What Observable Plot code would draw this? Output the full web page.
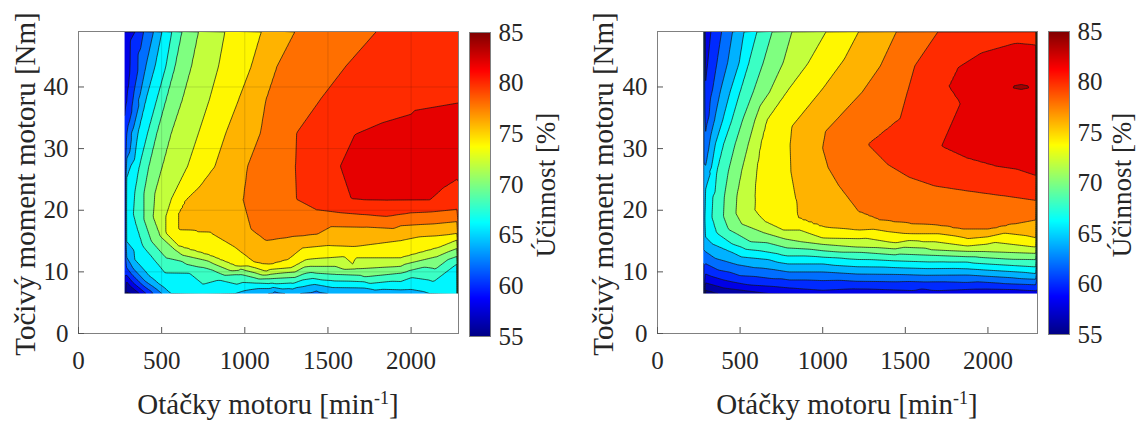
<!DOCTYPE html>
<html><head><meta charset="utf-8">
<script src="https://cdn.jsdelivr.net/npm/d3@7"></script>
<script src="https://cdn.jsdelivr.net/npm/@observablehq/plot@0.6"></script>
<style>
body{margin:0;background:#fff;}
#root{position:relative;width:1136px;height:421px;overflow:hidden;font-family:"Liberation Serif","Times New Roman",serif;color:#262626;background:#fff;}
.p{position:absolute;top:0;}
.lab{position:absolute;white-space:nowrap;font-size:29px;line-height:1;transform:translate(-50%,-50%);}
.rot{transform:translate(-50%,-50%) rotate(-90deg);}
.sup{font-size:0.62em;vertical-align:0.6em;}
</style></head>
<body><div id="root"></div>
<script>
// ---------- axes / scale values ----------
const xTicks = [0, 500, 1000, 1500, 2000];
const yTicks = [0, 10, 20, 30, 40];
const cbTicks = [55, 60, 65, 70, 75, 80, 85];
const levels = [54, 56, 58, 60, 62, 64, 66, 68, 70, 72, 74, 76, 78, 80, 82, 84];
const effRange = [55, 85];
const torqueMax = 49;
const leftRpmMax = 2285;
const rightRpmMax = 2300;

// ---------- left map: contour lines [rpm, torque] per efficiency level ----------
const leftC60 = [[342,49],[310,42],[280,35.2]];
const leftC62 = [[392,49],[336,39.5],[280,30.5]];
const leftC64 = [[452,49],[405,43.3],[361,37.9],[318,32.5],[280,27.5]];
const leftC66 = [[502,49],[460,43.3],[405,37.9],[357,32.5],[313,27.1],[280,24.5]];
const leftC68 = [[562,49],[526,43.3],[471,37.9],[416,32.5],[366,27.1],[339,22.8],[344,18.0],[388,14.2],[471,11.5],[668,9.8],[843,8.7],[1062,8.2],[1347,8.7],[1719,8.4],[2004,9.1],[2285,11.5]];
const leftC70 = [[622,49],[580,43.3],[526,37.9],[471,32.5],[423,27.1],[394,22.8],[394,18.5],[438,15.0],[526,12.3],[756,10.7],[975,9.6],[1150,8.9],[1347,9.6],[1544,9.6],[1719,9.2],[1938,9.8],[2285,12.6]];
const leftC72 = [[722,49],[679,43.3],[624,37.9],[558,32.5],[504,27.1],[460,22.8],[449,19.0],[493,15.8],[580,13.6],[777,11.8],[975,10.5],[1150,9.6],[1303,10.0],[1391,10.9],[1544,10.9],[1675,10.5],[1938,10.9],[2157,12.5],[2285,13.9]];
const leftC74 = [[882,49],[843,43.3],[788,37.9],[723,32.5],[657,27.1],[558,21.7],[526,19.0],[526,16.3],[602,14.2],[799,12.6],[953,10.9],[1128,10.1],[1281,10.7],[1369,12.0],[1500,12.3],[1653,11.2],[1938,12.3],[2157,13.9],[2285,15.3]];
const leftC76 = [[1102,49],[1040,43.3],[964,37.9],[887,32.5],[821,27.1],[723,23.6],[646,21.7],[602,19.6],[602,16.9],[799,16.3],[931,14.2],[1062,11.5],[1150,11.2],[1259,12.0],[1347,13.9],[1500,14.3],[1653,14.1],[1938,15.1],[2285,16.3]];
const leftC78 = [[1303,49],[1194,43.3],[1128,37.9],[1095,32.5],[1018,27.1],[992,21.7],[1040,16.9],[1128,15.1],[1281,15.7],[1434,16.1],[1522,17.4],[1719,17.3],[1938,17.5],[2285,18.2]];
const leftC80 = [[1796,49],[1610,43.3],[1456,37.9],[1314,32.5],[1307,27.2],[1314,21.8],[1434,20.1],[1719,19.3],[1851,19.0],[2004,19.6],[2285,20.2]];
const leftC82 = [[2285,36.8],[2004,35.5],[1829,34.1],[1664,32.2],[1577,27.1],[1643,21.8],[1851,21.6],[2113,21.7],[2190,23.6],[2285,25.2]];
const leftC66b = [[280,15.3],[339,12.0],[427,9.3],[515,7.4],[560,6.4]];
const leftC64b = [[280,12.8],[330,10.5],[400,8.5],[470,7.2],[505,6.4]];
const leftC62b = [[280,11.0],[320,9.6],[380,8.0],[450,6.4]];
const leftC60b = [[280,9.8],[330,8.2],[410,6.4]];
const leftC58b = [[280,8.7],[320,7.5],[370,6.4]];
const leftC56b = [[280,7.6],[330,6.4]];
const leftC66c = [[931,6.4],[1000,7.0],[1150,7.3],[1347,7.6],[1500,7.6],[1719,7.4],[1938,7.1],[2080,6.8],[2124,6.4]];
const leftC64c = [[1100,6.4],[1180,6.8],[1260,6.4]];
const leftC64d = [[1300,6.4],[1430,7.0],[1520,6.4]];
// extra readings [rpm, torque, efficiency]
const leftExtra = [[280,49,58.6],[2285,49,81.6],[280,6.4,55.4],[2285,6.4,66.8],[280,20,66.4],[745,6.4,66.8],
  [1000,6.4,65.3],[1180,6.4,63.6],[1280,6.4,64.3],[1430,6.4,63.4],[1800,6.4,64.8],[2000,6.4,65.2],
  [1950,28,83.4],[2150,30,83.3],[2285,30,83.2],[1750,27,82.9]];
const leftLines = [[60,leftC60],[62,leftC62],[64,leftC64],[66,leftC66],[68,leftC68],[70,leftC70],[72,leftC72],[74,leftC74],[76,leftC76],[78,leftC78],[80,leftC80],[82,leftC82],
  [66,leftC66b],[64,leftC64b],[62,leftC62b],[60,leftC60b],[58,leftC58b],[56,leftC56b],[66,leftC66c],[64,leftC64c],[64,leftC64d]];

// ---------- right map ----------
const rightC60 = [[324,49],[305,44],[288,40],[280,36]];
const rightC62 = [[389,49],[360,43.9],[320,38],[295,33.5],[280,30]];
const rightC64 = [[455,49],[425,43.9],[380,39.2],[345,34.6],[310,30],[290,27],[280,25.5]];
const rightC66 = [[525,49],[495,43.9],[440,39.2],[395,34.6],[350,30.7],[315,26.4],[292,23.5],[280,21.5]];
const rightC68 = [[603,49],[553,43.9],[500,39.2],[450,34.6],[400,30.7],[360,26.4],[335,22.2],[330,19.0],[360,16.3],[455,14.5],[673,13.2],[1001,12.4],[1438,11.8],[1876,11.6],[2300,10.8]];
const rightC70 = [[695,49],[640,43.9],[580,39.2],[515,34.6],[470,30.7],[430,26.4],[405,22.2],[400,19.0],[430,16.9],[564,14.9],[783,13.9],[1220,13.2],[1657,12.7],[2300,12.0]];
const rightC72 = [[815,49],[761,43.9],[680,39.2],[590,34.6],[550,30.7],[510,26.4],[480,22.2],[475,19.5],[510,17.8],[651,16.3],[870,14.9],[1220,14.0],[1657,13.6],[1985,13.3],[2300,13.0]];
const rightC74 = [[1023,49],[914,43.9],[783,39.2],[662,34.6],[625,30.7],[600,26.4],[590,22.2],[585,20.1],[651,18.2],[761,16.8],[1001,15.5],[1438,14.7],[1876,14.2],[2300,14.0]];
const rightC76 = [[1220,49],[1132,44.5],[1001,39.7],[870,35.4],[815,33.6],[804,30.7],[809,26.4],[837,22.2],[853,18.7],[1001,17.3],[1220,16.8],[1548,16.2],[1876,15.4],[2300,15.5]];
const rightC78 = [[1449,49],[1351,43.4],[1242,39.2],[1110,35.4],[1019,32.8],[1001,30.1],[1034,27.0],[1100,24.0],[1220,19.8],[1351,18.4],[1548,17.8],[1723,17.5],[1843,16.9],[2007,16.9],[2160,17.8],[2300,18.5]];
const rightC80 = [[1701,49],[1559,43.4],[1515,39.2],[1471,34.9],[1277,30.7],[1395,27.5],[1526,25.4],[1679,24.0],[1876,23.2],[2094,22.4],[2300,21.6]];
const rightC82 = [[2300,46.6],[2160,47.0],[1963,45.5],[1821,43.1],[1766,40.1],[1836,37.3],[1723,30.4],[1876,28.5],[2050,27.2],[2300,25.6]];
const rightC84 = [[2130,40],[2270,40]];
const rightC66b = [[280,16.0],[330,14.6],[450,13.2],[673,12.0],[1001,11.3],[1438,10.7],[1876,10.5],[2300,9.7]];
const rightC64b = [[280,13.5],[350,12.2],[480,11.2],[700,10.4],[1001,10.0],[1438,9.6],[1876,9.5],[2300,8.8]];
const rightC62b = [[280,11.5],[370,10.3],[500,9.4],[700,8.9],[1001,8.6],[1438,8.4],[1876,8.3],[2300,7.9]];
const rightC60b = [[280,9.8],[400,8.7],[550,7.9],[800,7.4],[1200,7.3],[1600,7.3],[2000,7.3],[2300,7.0]];
const rightC58b = [[280,8.3],[400,7.4],[550,6.9],[700,6.4]];
const rightC56b = [[280,7.2],[380,6.4]];
const rightExtra = [[280,49,58.5],[2300,49,81.7],[280,6.4,55.5],[2300,6.4,59.4],[1000,6.4,59.2],[1600,6.4,59.2],
  [280,18.7,67.0],[2100,35,83.4],[1950,36,83.0],[2200,28,82.6],[2300,35,83.5],[2300,40,83.8],[2100,44,83.0],
  [2200,40,84.5],[2200,39.2,83.5],[2200,40.8,83.5]];
const rightLines = [[60,rightC60],[62,rightC62],[64,rightC64],[66,rightC66],[68,rightC68],[70,rightC70],[72,rightC72],[74,rightC74],[76,rightC76],[78,rightC78],[80,rightC80],[82,rightC82],[84,rightC84],
  [66,rightC66b],[64,rightC64b],[62,rightC62b],[60,rightC60b],[58,rightC58b],[56,rightC56b]];

// ---------- helpers ----------
function samples(lines, extra) {
  const out = [];
  for (const [v, pts] of lines) for (const [x, y] of pts) out.push({x, y, v});
  for (const [x, y, v] of extra) out.push({x, y, v});
  return out;
}
// thresholds a hair below each level so flat triangles on a level line stay stable
const thresholds = levels.map(l => l - 0.02);
const jet = d3.scaleLinear()
  .domain([0, 0.125, 0.375, 0.625, 0.875, 1])
  .range(["#000084", "#0000ff", "#00ffff", "#ffff00", "#ff0000", "#800000"])
  .clamp(true);
const colorOpts = {type: "linear", domain: effRange, interpolate: (t) => jet(t), clamp: true};
const fontStack = "'Liberation Serif', 'Times New Roman', serif";
const style = {fontFamily: fontStack, fontSize: "25px", color: "#262626", background: "transparent", overflow: "visible"};

function mapPlot(data, xMax, grid, mLeft, mRight) {
  const x0 = d3.min(data, d => d.x), y0 = d3.min(data, d => d.y);
  const marks = [
    Plot.contour(data, {x: "x", y: "y", fill: "v", thresholds, interpolate: "barycentric",
      x1: x0 - 200, x2: xMax + 200, y1: y0 - 3, y2: torqueMax + 3,
      stroke: "#141414", strokeWidth: 0.8, strokeOpacity: 0.9, clip: true})
  ];
  if (grid) {
    marks.push(Plot.gridX(xTicks.slice(1), {stroke: "#000", strokeOpacity: 0.13}));
    marks.push(Plot.gridY(yTicks.slice(1), {stroke: "#000", strokeOpacity: 0.13}));
  }
  marks.push(Plot.rect([{x1: 0, x2: x0, y1: 0, y2: torqueMax}, {x1: 0, x2: xMax, y1: 0, y2: y0}],
    {x1: "x1", x2: "x2", y1: "y1", y2: "y2", fill: "white"}));
  marks.push(Plot.frame({stroke: "#808080"}));
  marks.push(Plot.axisX(xTicks, {tickSize: -6, tickPadding: 24, tickFormat: "d", stroke: "#555", label: null}));
  marks.push(Plot.axisY(yTicks, {tickSize: -6, tickPadding: 16, tickFormat: "d", stroke: "#555", label: null}));
  return Plot.plot({
    width: mLeft + 380 + mRight, height: 421,
    marginLeft: mLeft, marginRight: mRight, marginTop: 31, marginBottom: 88,
    x: {domain: [0, xMax]}, y: {domain: [0, torqueMax]},
    color: colorOpts, style, marks
  });
}
function colorbar(mLeft, mRight, mTop, mBottom) {
  return Plot.plot({
    width: mLeft + 21 + mRight, height: 421,
    marginLeft: mLeft, marginRight: mRight, marginTop: mTop, marginBottom: mBottom,
    x: {domain: [0, 1], axis: null}, y: {domain: effRange},
    color: colorOpts, style,
    marks: [
      Plot.raster({fill: (x, y) => y, x1: 0, x2: 1, y1: effRange[0], y2: effRange[1]}),
      Plot.frame({stroke: "#808080"}),
      Plot.axisY(cbTicks, {anchor: "right", tickSize: 0, tickPadding: 8, tickFormat: "d", label: null})
    ]
  });
}

const root = document.getElementById("root");
function place(node, left) { node.classList.add("p"); node.style.left = left + "px"; root.appendChild(node); }
place(mapPlot(samples(leftLines, leftExtra), leftRpmMax, true, 78, 2), 0);
place(colorbar(9, 80, 32, 85), 460);
place(mapPlot(samples(rightLines, rightExtra), rightRpmMax, false, 87, 3), 570);
place(colorbar(8, 67, 31, 87), 1040);

const yLab = "Točivý moment motoru [Nm]";
const xLab = 'Otáčky motoru [min<span class="sup">-1</span>]';
const cLab = "Účinnost [%]";
function label(html, cx, cy, rot, size) {
  const d = document.createElement("div");
  d.className = "lab" + (rot ? " rot" : "");
  d.innerHTML = html; d.style.left = cx + "px"; d.style.top = cy + "px";
  if (size) d.style.fontSize = size + "px";
  root.appendChild(d);
}
label(yLab, 25, 184, true);
label(xLab, 268, 404, false);
label(cLab, 546, 185, true, 27);
label(yLab, 603, 184, true);
label(xLab, 847, 404, false);
label(cLab, 1122, 185, true, 27);
</script>
</body></html>
